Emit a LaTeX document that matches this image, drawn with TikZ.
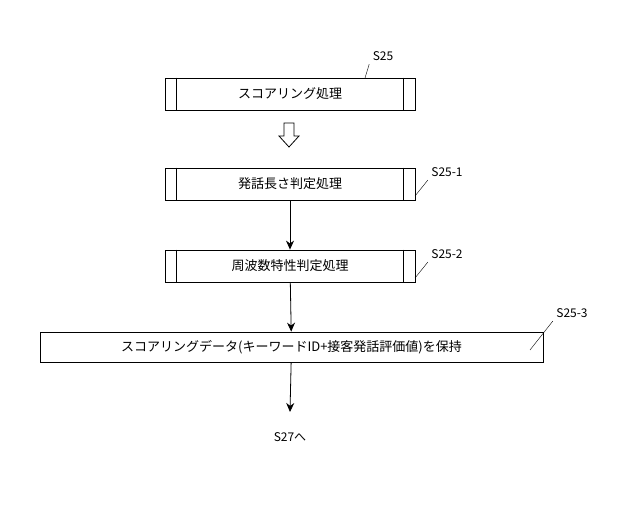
\documentclass[tikz,border=0pt]{standalone}
\usepackage{fontspec}
\setmainfont{Noto Sans CJK JP}
\usetikzlibrary{positioning,arrows.meta}
\tikzset{
  subproc/.style={draw,thick,minimum width=250pt,minimum height=32pt,font=\fontsize{13pt}{15pt}\selectfont},
  proc/.style={draw,thick,minimum width=503pt,minimum height=30pt,font=\fontsize{13pt}{15pt}\selectfont},
  steplabel/.style={font=\fontsize{12pt}{14pt}\selectfont},
  flow/.style={thick,-{Stealth[length=9pt,width=8pt]}},
}
\begin{document}
\begin{tikzpicture}[x=1pt,y=-1pt]
\useasboundingbox (0,0) rectangle (640,511);
\node[subproc] (scoring) at (290,94) {スコアリング処理};
\node[subproc] (length) at (290,184) {発話長さ判定処理};
\node[subproc] (freq) at (290,266) {周波数特性判定処理};
\node[proc] (hold) at (291.5,347) {スコアリングデータ(キーワードID+接客発話評価値)を保持};
\node[steplabel] (next) at (290,437) {S27へ};
\coordinate (end) at (290,412);
% inner bars of the sub-process boxes
\foreach \b in {scoring,length,freq} {
  \draw[thick] ([xshift=12pt]\b.north west) -- ([xshift=12pt]\b.south west);
  \draw[thick] ([xshift=-12pt]\b.north east) -- ([xshift=-12pt]\b.south east);
}
% hollow arrow
\draw[thick] (284,123) -- (284,136) -- (279,136) -- (289,147) -- (299,136) -- (294,136) -- (294,123) -- cycle;
\draw[flow] (length) -- (freq);
\draw[flow] (freq) -- (hold);
\draw[flow] (hold) -- (end);
% step labels
\node[steplabel] (l1) at (383,56) {S25};
\node[steplabel] (l2) at (447,172) {S25-1};
\node[steplabel] (l3) at (447,254) {S25-2};
\node[steplabel] (l4) at (572,313) {S25-3};
\draw (365,78) -- (l1.south west);
\draw (415,196) -- (l2.south west);
\draw (415,278) -- (l3.south west);
\draw (530,350) -- (l4.south west);
\end{tikzpicture}
\end{document}
